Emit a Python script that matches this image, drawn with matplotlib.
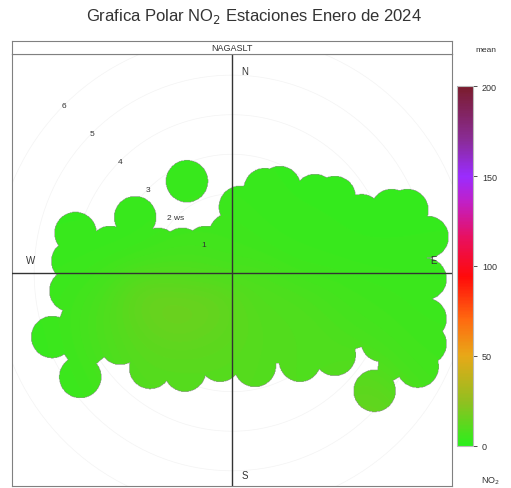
import numpy as np
import matplotlib.pyplot as plt
import matplotlib.colors as mcolors
from matplotlib.path import Path

plt.rcParams['font.family'] = ['Liberation Sans', 'DejaVu Sans']

# outline of the main blob (u, v in ws units, clockwise) and mean NO2 at each point
out_u = [-3.96, -3.08, -2.45, -1.87, -1.26, -0.66, 0.20, 0.83, 1.21, 2.10, 2.60, 3.28, 4.04, 4.44,
         4.95, 4.90, 4.90, 4.90, 4.70, 3.61, 3.79, 2.60, 1.72, 0.58, -0.30, -1.19, -2.07, -2.83,
         -3.84, -4.55, -4.09, -4.04]
out_v = [1.01, 0.66, 1.41, 0.61, 0.61, 0.66, 1.67, 2.12, 2.17, 1.97, 1.92, 1.46, 1.59, 1.59,
         0.91, -0.15, -1.16, -1.79, -2.37, -2.98, -1.72, -2.07, -2.22, -2.35, -2.22, -2.47, -2.40, -1.79,
         -2.63, -1.62, -0.45, 0.30]
out_no2 = [3, 3, 3, 4, 5, 5, 4, 3, 3, 3, 3, 3, 3, 3,
           3, 4, 4, 5, 6, 15, 7, 9, 9, 10, 10, 10, 9, 8,
           4, 3, 4, 3]

# single detached point
iso_u = [-1.14]
iso_v = [2.32]
iso_no2 = [3]

# interior points
in_u = [-1.82, -0.81, -2.70, -1.19, -3.33, 0.71, 1.72, 2.73, 3.74, 1.72, 3.48, -0.05, -3.59, -2.07, -0.30]
in_v = [-0.91, -1.16, -0.66, -0.15, -1.41, -0.66, -1.41, -0.66, -0.66, 0.61, 0.61, 0.98, -0.40, -1.79, -1.67]
in_no2 = [20, 18, 14, 13, 8, 9, 10, 6, 5, 4, 3, 6, 6, 14, 12]

ring_ws = [1, 2, 3, 4, 5, 6]
ring_labels = ['1', '2 ws', '3', '4', '5', '6']
cbar_ticks = [0, 50, 100, 150, 200]
station = 'NAGASLT'

cmap = mcolors.LinearSegmentedColormap.from_list('oa', [
    (0.0, '#2bef1c'), (0.12, '#90c020'), (0.25, '#e8a818'), (0.35, '#ff6a10'),
    (0.47, '#ff0a0a'), (0.58, '#e81060'), (0.68, '#c020c8'), (0.75, '#9a2cff'),
    (0.85, '#8a2c98'), (1.0, '#7a1c2c')])
norm = mcolors.Normalize(0, 200)

xlim = (-5.56, 5.56)
ylim = (-5.38, 5.53)
R = 0.53

fig = plt.figure(figsize=(5.11, 4.89), dpi=100)
ax = fig.add_axes([12/511, 2/489, 440/511, 432/489])

# surface
gx = np.linspace(xlim[0], xlim[1], 700)
gy = np.linspace(ylim[0], ylim[1], 700)
X, Y = np.meshgrid(gx, gy)
pu = np.array(out_u + iso_u + in_u)
pv = np.array(out_v + iso_v + in_v)
pc = np.array(out_no2 + iso_no2 + in_no2, dtype=float)
num = np.zeros_like(X)
den = np.zeros_like(X)
dmin = np.full(X.shape, np.inf)
for u, v, c in zip(pu, pv, pc):
    d2 = (X - u)**2 + (Y - v)**2
    w = np.exp(-d2 / (2 * 0.7**2))
    num += w * c
    den += w
    dmin = np.minimum(dmin, np.sqrt(d2))
field = num / den
poly = Path(np.column_stack([out_u, out_v]))
inside = poly.contains_points(np.column_stack([X.ravel(), Y.ravel()])).reshape(X.shape)
mask = inside | (dmin <= R)
ax.imshow(np.ma.masked_where(~mask, field), cmap=cmap, norm=norm, origin='lower',
          extent=(xlim[0], xlim[1], ylim[0], ylim[1]), interpolation='bilinear', zorder=1)

# rings and labels
t = np.linspace(0, 2*np.pi, 300)
for r, lab in zip(ring_ws, ring_labels):
    ax.plot(r*np.cos(t), r*np.sin(t), color='#f3f3f3', lw=0.5, zorder=0.5)
    ax.text(-r*np.sin(np.pi/4), r*np.cos(np.pi/4), lab, fontsize=6, ha='center', va='center',
            color='#333333', zorder=4)

ax.axhline(0, color='#333333', lw=1, zorder=3)
ax.axvline(0, color='#333333', lw=1, zorder=3)
ax.text(0.33, 5.1, 'N', fontsize=7, ha='center', va='center', color='#333333')
ax.text(0.33, -5.1, 'S', fontsize=7, ha='center', va='center', color='#333333')
ax.text(-5.1, 0.33, 'W', fontsize=7, ha='center', va='center', color='#333333')
ax.text(5.1, 0.33, 'E', fontsize=7, ha='center', va='center', color='#333333')

ax.set_xlim(xlim)
ax.set_ylim(ylim)
ax.set_xticks([])
ax.set_yticks([])
for s in ax.spines.values():
    s.set_color('#808080')

# strip
sax = fig.add_axes([12/511, 434/489, 440/511, 13/489])
sax.set_xticks([])
sax.set_yticks([])
for s in sax.spines.values():
    s.set_color('#808080')
sax.text(0.5, 0.5, station, fontsize=6.5, ha='center', va='center', transform=sax.transAxes,
         color='#333333')

# colour key
cax = fig.add_axes([457/511, 42/489, 16/511, 360/489])
sm = plt.cm.ScalarMappable(norm=norm, cmap=cmap)
cb = fig.colorbar(sm, cax=cax, ticks=cbar_ticks)
cb.outline.set_edgecolor('#bbbbbb')
cb.ax.tick_params(labelsize=6.5, length=3, width=0.6, colors='#333333')
fig.text(486/511, 1 - 50/489, 'mean', fontsize=6, ha='center', va='center', color='#333333')
fig.text(490/511, 1 - 481/489, 'NO$_2$', fontsize=6.5, ha='center', va='center', color='#333333')

fig.text(254/511, 1 - 17/489, 'Grafica Polar NO$_2$ Estaciones Enero de 2024', fontsize=12,
         ha='center', va='center', color='#333333')

fig.savefig('out.png', dpi=100)
